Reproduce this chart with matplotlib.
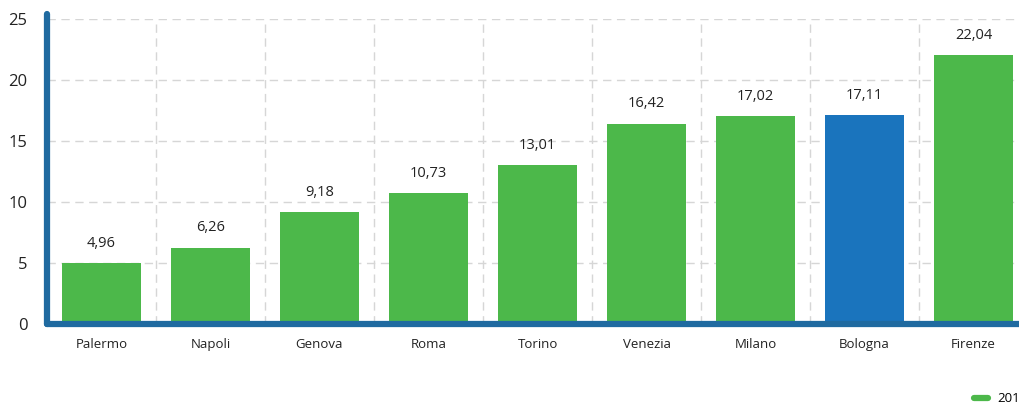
import matplotlib.pyplot as plt
from matplotlib.lines import Line2D
import numpy as np

plt.rcParams['font.family'] = ['Open Sans', 'DejaVu Sans']

# Data
cities = ['Palermo', 'Napoli', 'Genova', 'Roma', 'Torino', 'Venezia', 'Milano', 'Bologna', 'Firenze']
values = [4.96, 6.26, 9.18, 10.73, 13.01, 16.42, 17.02, 17.11, 22.04]
labels = ['4,96', '6,26', '9,18', '10,73', '13,01', '16,42', '17,02', '17,11', '22,04']
highlight = 'Bologna'
year = '2019'

green = '#4cb84a'
blue = '#1a74bd'
axis_blue = '#1f6aa0'

fig = plt.figure(figsize=(10.2, 4.03), dpi=100)
ax = fig.add_axes([0.046, 0.196, 0.962, 0.757])

x = np.arange(len(cities))
colors = [blue if c == highlight else green for c in cities]
ax.bar(x, values, width=0.72, color=colors, zorder=3)

for xi, v, lab in zip(x, values, labels):
    ax.text(xi, v + 1.0, lab, ha='center', va='bottom', fontsize=10.5, color='#222222')

ax.set_xlim(-0.5, len(cities) - 0.5)
ax.set_ylim(0, 25)
ax.set_yticks([0, 5, 10, 15, 20, 25])
ax.set_xticks(x)
ax.set_xticklabels(cities, fontsize=9.5, color='#222222')
ax.tick_params(axis='y', labelsize=12, length=0, pad=14, labelcolor='#222222')
ax.tick_params(axis='x', length=0, pad=10)

# dashed grid
ax.set_xticks(x[:-1] + 0.5, minor=True)
ax.tick_params(axis='x', which='minor', length=0)
ax.grid(axis='y', color='#d6d6d6', linestyle=(0, (6, 4)), linewidth=1, zorder=0)
ax.grid(axis='x', which='minor', color='#d6d6d6', linestyle=(0, (6, 4)), linewidth=1, zorder=0)
ax.grid(axis='x', which='major', visible=False)

for s in ['top', 'right']:
    ax.spines[s].set_visible(False)
for s in ['left', 'bottom']:
    ax.spines[s].set_color(axis_blue)
    ax.spines[s].set_linewidth(4.5)
    ax.spines[s].set_capstyle('round')
    ax.spines[s].set_zorder(4)
ax.spines['left'].set_bounds(0, 25.4)

handle = Line2D([], [], color=green, linewidth=4.5, solid_capstyle='round')
fig.legend([handle], [year], loc='lower left', bbox_to_anchor=(0.943, -0.035),
           frameon=False, fontsize=9.5, handlelength=1.1, handletextpad=0.7)

fig.savefig('out.png', dpi=100)
